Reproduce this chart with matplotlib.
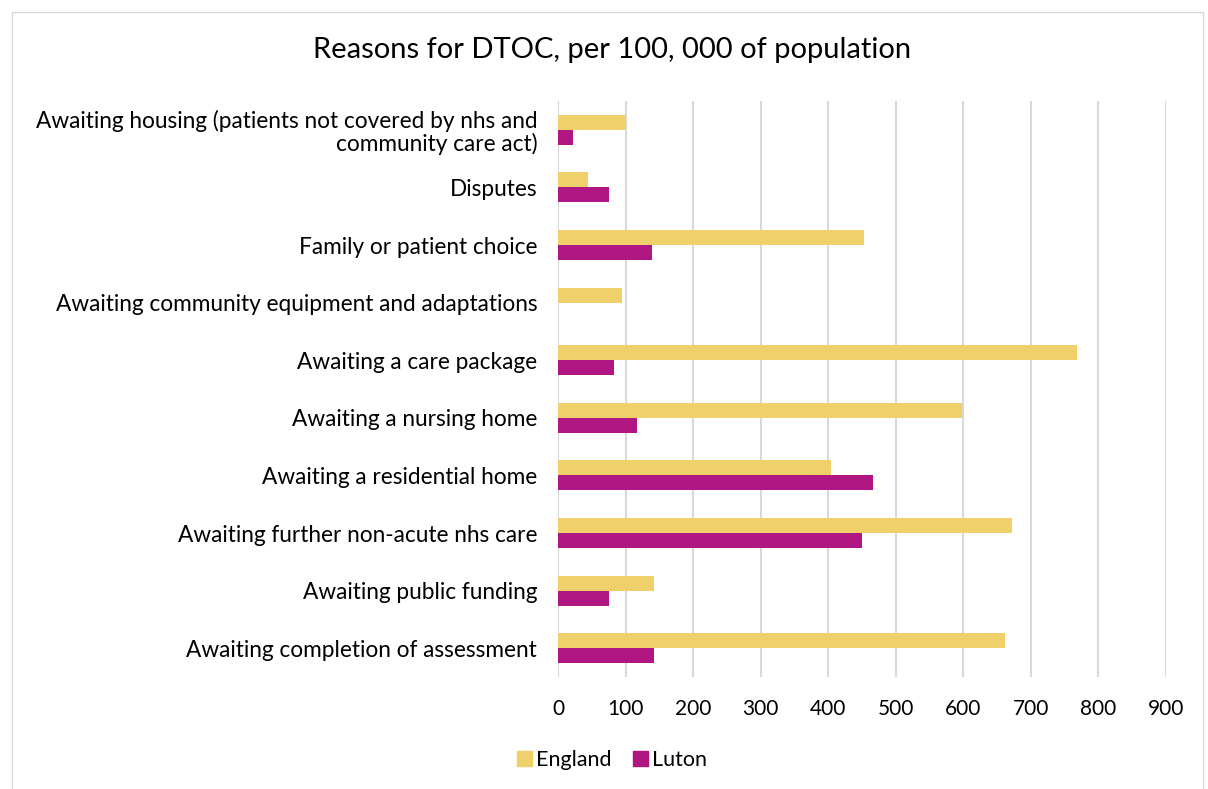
import matplotlib.pyplot as plt
import matplotlib.patches as mpatches
import numpy as np

plt.rcParams['font.family'] = ['Lato', 'DejaVu Sans']

categories = [
    'Awaiting housing (patients not covered by nhs and\ncommunity care act)',
    'Disputes',
    'Family or patient choice',
    'Awaiting community equipment and adaptations',
    'Awaiting a care package',
    'Awaiting a nursing home',
    'Awaiting a residential home',
    'Awaiting further non-acute nhs care',
    'Awaiting public funding',
    'Awaiting completion of assessment',
]
england = [100, 44, 453, 94, 768, 598, 404, 672, 142, 661]
luton = [22, 75, 139, 0, 83, 117, 467, 450, 75, 142]
xticks = [0, 100, 200, 300, 400, 500, 600, 700, 800, 900]

c_eng = '#EFD06B'
c_lut = '#B01682'

fig = plt.figure(figsize=(12.08, 7.89), dpi=100)
ax = fig.add_axes([558/1208, 1 - 677/789, (1166-558)/1208, 576/789])

y = np.arange(len(categories))
h = 0.26
ax.barh(y - h/2, england, height=h, color=c_eng, label='England', zorder=2)
ax.barh(y + h/2, luton, height=h, color=c_lut, label='Luton', zorder=2)

ax.set_ylim(len(categories) - 0.5, -0.5)
ax.set_xlim(0, 900)
ax.set_xticks(xticks)
ax.set_yticks(y)
ax.set_yticklabels(categories, fontsize=16.3, ha='right', linespacing=1.05)
ax.tick_params(axis='x', length=0, labelsize=15, pad=16)
ax.tick_params(axis='y', length=0, pad=15)
ax.grid(axis='x', color='#D9D9D9', linewidth=1.5, zorder=0)
ax.set_axisbelow(True)
for s in ax.spines.values():
    s.set_visible(False)

fig.text(612/1208, 1 - 50/789, 'Reasons for DTOC, per 100, 000 of population',
         ha='center', va='center', fontsize=21)

fig.legend(handles=[mpatches.Patch(color=c_eng, label='England'),
                    mpatches.Patch(color=c_lut, label='Luton')],
           loc='center', bbox_to_anchor=(612/1208, 1 - 760/789), ncol=2,
           frameon=False, fontsize=15.5, handlelength=0.7, handleheight=0.7,
           handletextpad=0.2, columnspacing=1.0)

fig.patches.append(mpatches.Rectangle((12/1208, -0.05), (1203-12)/1208, 1.05 - 12/789,
                                      transform=fig.transFigure, fill=False,
                                      edgecolor='#D9D9D9', linewidth=1))

fig.savefig('out.png', dpi=100)
